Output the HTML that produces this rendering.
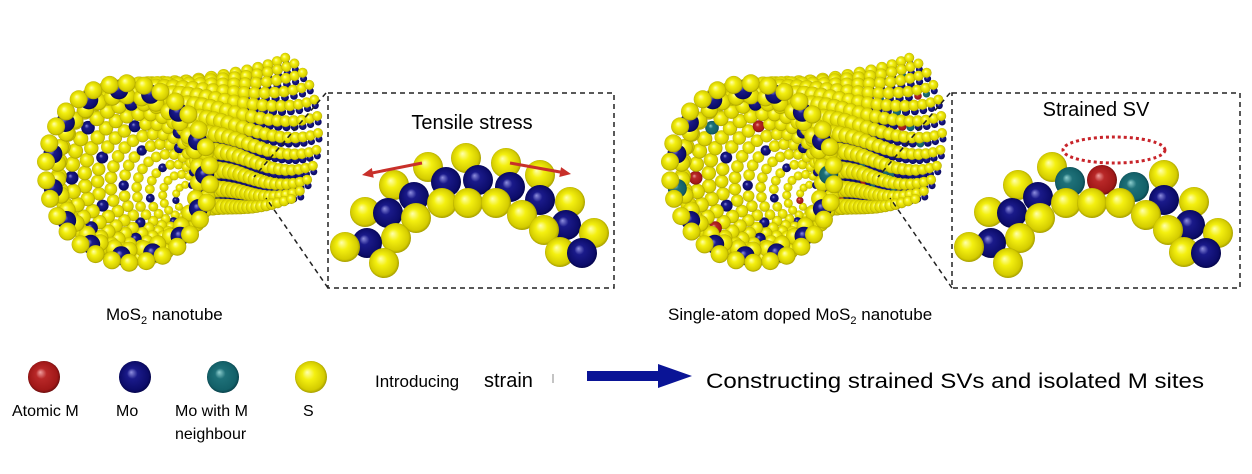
<!DOCTYPE html>
<html><head><meta charset="utf-8">
<style>
html,body{margin:0;padding:0;background:#fff;}
svg{display:block;}
text{font-family:"Liberation Sans",Arial,sans-serif;fill:#000;}
</style></head>
<body>
<svg id="s" width="1252" height="474" viewBox="0 0 1252 474" xmlns="http://www.w3.org/2000/svg">
<defs>
<radialGradient id="gy" cx="0.5" cy="0.5" r="0.55" fx="0.38" fy="0.35"><stop offset="0" stop-color="#ffffb0"/><stop offset="0.35" stop-color="#f4f010"/><stop offset="0.8" stop-color="#d4cc00"/><stop offset="1" stop-color="#8c8400"/></radialGradient>
<radialGradient id="gb" cx="0.5" cy="0.5" r="0.55" fx="0.38" fy="0.35"><stop offset="0" stop-color="#9090e0"/><stop offset="0.3" stop-color="#1a1a8a"/><stop offset="0.8" stop-color="#0c0c6a"/><stop offset="1" stop-color="#00003a"/></radialGradient>
<radialGradient id="gr" cx="0.5" cy="0.5" r="0.55" fx="0.38" fy="0.35"><stop offset="0" stop-color="#f0a0a0"/><stop offset="0.3" stop-color="#b82828"/><stop offset="0.8" stop-color="#a01818"/><stop offset="1" stop-color="#500808"/></radialGradient>
<radialGradient id="gt" cx="0.5" cy="0.5" r="0.55" fx="0.38" fy="0.35"><stop offset="0" stop-color="#90d0d0"/><stop offset="0.3" stop-color="#1e7078"/><stop offset="0.8" stop-color="#136068"/><stop offset="1" stop-color="#03303a"/></radialGradient>
</defs>
<g id="tubes"></g>
<g id="insets"></g>
<rect x="328" y="93" width="286" height="195" fill="none" stroke="#222" stroke-width="1.5" stroke-dasharray="5,4"/>
<rect x="952" y="93" width="288" height="195" fill="none" stroke="#222" stroke-width="1.5" stroke-dasharray="5,4"/>
<g stroke="#222" stroke-width="1.5" stroke-dasharray="5,4">
<line x1="326" y1="93" x2="254" y2="177"/><line x1="328" y1="288" x2="266" y2="198"/>
<line x1="950" y1="93" x2="878" y2="177"/><line x1="952" y1="288" x2="890" y2="198"/>
</g>
<text x="472" y="129" font-size="20" text-anchor="middle">Tensile stress</text>
<text x="1096" y="116" font-size="20" text-anchor="middle">Strained SV</text>
<ellipse cx="1114" cy="150" rx="51" ry="13" fill="none" stroke="#c8242a" stroke-width="3" stroke-dasharray="3,3"/>
<text x="106" y="320" font-size="17">MoS<tspan font-size="11" dy="4">2</tspan><tspan dy="-4"> nanotube</tspan></text>
<text x="668" y="320" font-size="17">Single-atom  doped  MoS<tspan font-size="11" dy="4">2</tspan><tspan dy="-4"> nanotube</tspan></text>
<circle cx="44" cy="377" r="16" fill="url(#gr)"/>
<circle cx="135" cy="377" r="16" fill="url(#gb)"/>
<circle cx="223" cy="377" r="16" fill="url(#gt)"/>
<circle cx="311" cy="377" r="16" fill="url(#gy)"/>
<text x="12" y="416" font-size="16">Atomic M</text>
<text x="116" y="416" font-size="16">Mo</text>
<text x="175" y="416" font-size="16">Mo with M</text>
<text x="175" y="439" font-size="16">neighbour</text>
<text x="303" y="416" font-size="16">S</text>
<text x="375" y="387" font-size="17">Introducing</text>
<text x="484" y="387" font-size="20">strain</text>
<line x1="553" y1="374" x2="553" y2="383" stroke="#888" stroke-width="1"/>
<polygon points="587,371 658,371 658,364 692,376 658,388 658,381 587,381" fill="#0a1496"/>
<text x="706" y="388" font-size="21.5" textLength="498" lengthAdjust="spacingAndGlyphs">Constructing strained SVs and isolated M sites</text>
</svg>
<script>
(function(){
var NS="http://www.w3.org/2000/svg";
var G={y:"url(#gy)",b:"url(#gb)",r:"url(#gr)",t:"url(#gt)"};
function C(p,x,y,r,c){var e=document.createElementNS(NS,"circle");e.setAttribute("cx",x.toFixed(1));e.setAttribute("cy",y.toFixed(1));e.setAttribute("r",r.toFixed(1));e.setAttribute("fill",G[c]);p.appendChild(e);}
var tubes=document.getElementById("tubes");
var seed=7;function rnd(){seed=(seed*9301+49297)%233280;return seed/233280;}
function dope(c,doped,p){ if(!doped||c!="b")return c; var q=rnd(); if(q<p)return "r"; if(q<2*p)return "t"; return c;}
function tube(ox,doped){
  var MX=128+ox,MY=173,RX=82,RY=90,tilt=-0.2;
  function ell(cx,cy,rx,ry,a){var lx=rx*Math.cos(a),ly=ry*Math.sin(a);return [cx+lx*Math.cos(tilt)-ly*Math.sin(tilt),cy+lx*Math.sin(tilt)+ly*Math.cos(tilt)];}
  function bez(s,c1,c2,e,u){var v=1-u;return [v*v*v*s[0]+3*v*v*u*c1[0]+3*v*u*u*c2[0]+u*u*u*e[0], v*v*v*s[1]+3*v*v*u*c1[1]+3*v*u*u*c2[1]+u*u*u*e[1]];}
  var R=12;
  for(var i=0;i<R;i++){
    var f=i/(R-1);
    var a=-1.85+f*2.45;
    var s=ell(MX,MY,RX-4,RY-4,a);
    var b=-1.35+f*2.55;
    var e=[ox+276+42*Math.cos(b), 130+74*Math.sin(b)];
    var c1=[s[0]+40, s[1]-10+f*6];
    var c2=[e[0]-45, e[1]+22-f*8];
    var n=18;
    if(i<R-1) for(var m=0;m<=n;m++){var u=m/n;var p=bez(s,c1,c2,e,u);
      C(tubes,p[0]+1,p[1]+6,6-2.5*u,dope("b",doped,0.06));}
    for(var m=0;m<=n;m++){var u=m/n;var p=bez(s,c1,c2,e,u);
      C(tubes,p[0],p[1],9-4*u,"y");}
  }
  var N=10;
  for(var k=N;k>=1;k--){
    var t=k/N;
    var cx=MX+60*t, cy=MY+25*t, rx=RX*(1-0.85*t), ry=RY*(1-0.85*t);
    var rs=8.5-4.5*t;
    var M=Math.max(6,Math.round(2*Math.PI*(rx+ry)/2/(rs*1.75)));
    for(var j=0;j<M;j++){
      var a=j/M*2*Math.PI+(k%2)*Math.PI/M;
      var p=ell(cx,cy,rx,ry,a);
      var c=(j%4==2 && k%2==0)?"b":"y";
      C(tubes,p[0],p[1],c=="b"?rs*0.9:rs,dope(c,doped,0.12));
    }
  }
  var M=30;
  for(var j=0;j<M;j++){var a=j/M*2*Math.PI+0.1;var p=ell(MX,MY,RX*0.86,RY*0.86,a);C(tubes,p[0],p[1],8.5,"y");}
  for(var j=0;j<M;j++){var a=j/M*2*Math.PI+0.1+Math.PI/M;var p=ell(MX,MY,RX*0.93,RY*0.93,a);if(j%2==0)C(tubes,p[0],p[1],9.5,dope("b",doped,0.15));}
  for(var j=0;j<M;j++){var a=j/M*2*Math.PI+0.1;var p=ell(MX,MY,RX,RY,a);C(tubes,p[0],p[1],9,"y");}
}
tube(0,false);
seed=11;tube(624,true);
var ins=document.getElementById("insets");
var Y=[[345,247],[384,263],[365,212],[396,238],[394,185],[416,218],[428,167],[442,203],[466,158],[468,203],[496,203],[506,163],[522,215],[540,175],[544,230],[570,202],[560,252],[594,233]];
var B=[[367,243],[388,213],[414,197],[446,182],[478,180],[510,187],[540,200],[566,225],[582,253]];
function inset(ox,right){
  var list=[];
  Y.forEach(function(p,i){ if(right&&(i==8||i==11))return; list.push([p[0],p[1],"y"]);});
  B.forEach(function(p,i){ var c="b"; if(right){ if(i==3)c="t"; if(i==4)c="r"; if(i==5)c="t"; } list.push([p[0],p[1],c]);});
  list.sort(function(a,b){return a[1]-b[1];});
  list.forEach(function(p){C(ins,p[0]+ox,p[1],15,p[2]);});
}
inset(0,false);inset(624,true);
function arrow(x1,y1,x2,y2){
  var l=document.createElementNS(NS,"line");
  l.setAttribute("x1",x1);l.setAttribute("y1",y1);
  var dx=x2-x1,dy=y2-y1,L=Math.sqrt(dx*dx+dy*dy),ux=dx/L,uy=dy/L;
  l.setAttribute("x2",x2-ux*9);l.setAttribute("y2",y2-uy*9);
  l.setAttribute("stroke","#c8302a");l.setAttribute("stroke-width","3");ins.appendChild(l);
  var p=document.createElementNS(NS,"polygon");
  var bx=x2-ux*11,by=y2-uy*11;
  p.setAttribute("points",x2+","+y2+" "+(bx-uy*5)+","+(by+ux*5)+" "+(bx+uy*5)+","+(by-ux*5));
  p.setAttribute("fill","#c8302a");ins.appendChild(p);
}
arrow(422,163,362,175);arrow(510,163,571,174);
})();
</script>
</body></html>
